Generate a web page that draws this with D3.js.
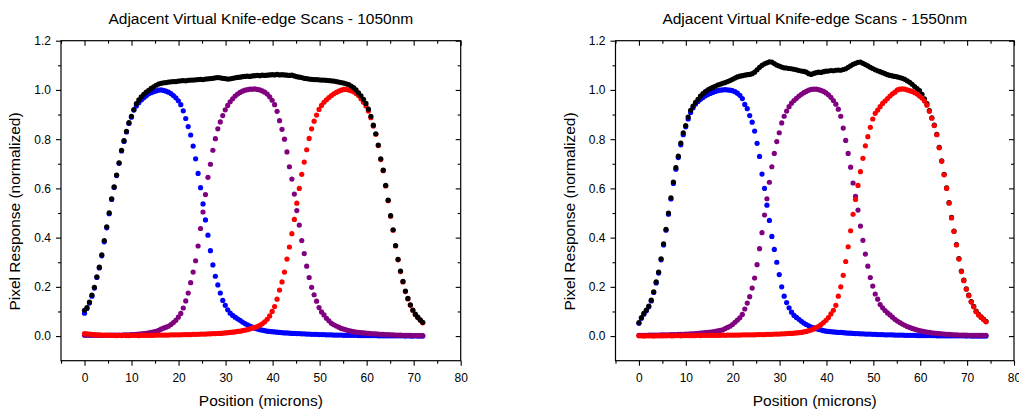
<!DOCTYPE html>
<html lang="en">
<head>
<meta charset="UTF-8">
<title>Adjacent Virtual Knife-edge Scans</title>
<script src="https://d3js.org/d3.v7.min.js"></script>
<style>
    body { margin: 0; background: #fff; }
    svg { display: block; }
    text { font-family: "Liberation Sans", Arial, sans-serif; fill: #000; }
</style>
</head>
<body>
<script>
    // scan samples are taken every 0.525 microns, starting at 0
    const scanStep = 0.525;

    const xMajor = [0, 10, 20, 30, 40, 50, 60, 70, 80];
    const xMinor = [-5, 5, 15, 25, 35, 45, 55, 65, 75];
    const yMajor = [0, 0.2, 0.4, 0.6, 0.8, 1.0, 1.2];
    const yMinor = [0.1, 0.3, 0.5, 0.7, 0.9, 1.1];

    // ---- 1050nm ----
    const blue1050 = [
        0.093,0.112,0.134,0.162,0.195,0.238,0.277,0.326,0.383,0.44,
        0.497,0.555,0.604,0.652,0.702,0.752,0.791,0.829,0.864,0.889,
        0.918,0.935,0.948,0.959,0.968,0.976,0.984,0.989,0.993,0.996,
        0.999,1.0,0.998,0.995,0.991,0.985,0.977,0.968,0.956,0.94,
        0.915,0.884,0.851,0.817,0.772,0.72,0.661,0.603,0.537,0.472,
        0.41,0.347,0.289,0.243,0.208,0.175,0.145,0.125,0.107,0.093,
        0.084,0.077,0.07,0.064,0.057,0.051,0.046,0.041,0.036,0.032,
        0.029,0.026,0.024,0.022,0.02,0.019,0.018,0.017,0.016,0.015,
        0.014,0.013,0.013,0.012,0.011,0.011,0.01,0.01,0.009,0.009,
        0.008,0.008,0.007,0.007,0.007,0.006,0.006,0.006,0.005,0.005,
        0.005,0.004,0.004,0.004,0.004,0.003,0.003,0.003,0.003,0.003,
        0.003,0.002,0.002,0.002,0.002,0.002,0.002,0.002,0.002,0.001,
        0.001,0.001,0.001,0.001,0.001,0.001,0.001,0.001,0.001,0.001,
        0.0,0.001,0.0,0.0,0.001,0.0,0.0,0.0
    ];
    const purple1050 = [
        0.003,0.003,0.003,0.003,0.003,0.003,0.003,0.003,0.003,0.003,
        0.004,0.004,0.004,0.004,0.004,0.004,0.005,0.005,0.005,0.006,
        0.006,0.007,0.008,0.009,0.01,0.011,0.013,0.015,0.017,0.019,
        0.023,0.028,0.032,0.036,0.04,0.047,0.055,0.064,0.077,0.092,
        0.114,0.143,0.175,0.217,0.26,0.306,0.366,0.437,0.504,0.575,
        0.645,0.698,0.755,0.802,0.842,0.87,0.896,0.919,0.937,0.952,
        0.964,0.975,0.983,0.99,0.995,0.999,1.001,1.003,1.003,1.004,
        1.002,1.0,0.996,0.991,0.983,0.972,0.958,0.94,0.913,0.875,
        0.84,0.8,0.748,0.688,0.638,0.577,0.51,0.451,0.388,0.335,
        0.284,0.238,0.198,0.168,0.142,0.116,0.098,0.086,0.072,0.062,
        0.052,0.046,0.041,0.036,0.031,0.028,0.025,0.022,0.02,0.018,
        0.016,0.015,0.014,0.013,0.012,0.011,0.01,0.009,0.009,0.008,
        0.007,0.007,0.006,0.006,0.005,0.005,0.004,0.004,0.004,0.003,
        0.003,0.003,0.003,0.002,0.002,0.002,0.002,0.002
    ];
    const red1050 = [
        0.01,0.009,0.008,0.007,0.006,0.005,0.005,0.004,0.004,0.004,
        0.003,0.003,0.003,0.002,0.003,0.002,0.003,0.002,0.002,0.003,
        0.003,0.003,0.002,0.003,0.003,0.003,0.003,0.003,0.003,0.004,
        0.004,0.004,0.004,0.004,0.004,0.005,0.005,0.005,0.005,0.005,
        0.006,0.006,0.006,0.006,0.007,0.007,0.007,0.008,0.008,0.008,
        0.009,0.009,0.01,0.01,0.011,0.011,0.012,0.013,0.014,0.015,
        0.016,0.017,0.019,0.02,0.022,0.024,0.026,0.029,0.032,0.035,
        0.039,0.044,0.05,0.058,0.068,0.082,0.1,0.12,0.15,0.187,
        0.22,0.26,0.313,0.362,0.416,0.474,0.54,0.6,0.657,0.707,
        0.757,0.803,0.842,0.873,0.898,0.921,0.937,0.95,0.96,0.969,
        0.977,0.984,0.99,0.995,0.999,1.002,1.002,1.0,0.997,0.993,
        0.986,0.977,0.964,0.95,0.935,0.914,0.887,0.853,0.82,0.774,
        0.717,0.672,0.61,0.55,0.487,0.43,0.366,0.31,0.262,0.22,
        0.181,0.151,0.125,0.104,0.087,0.075,0.064,0.054
    ];
    const black1050 = [
        0.105,0.116,0.138,0.167,0.198,0.241,0.28,0.33,0.388,0.444,
        0.501,0.558,0.606,0.654,0.704,0.755,0.794,0.832,0.867,0.893,
        0.92,0.944,0.96,0.972,0.982,0.991,0.998,1.006,1.013,1.019,
        1.024,1.027,1.029,1.03,1.032,1.033,1.034,1.034,1.036,1.037,
        1.038,1.037,1.039,1.04,1.04,1.041,1.042,1.043,1.042,1.044,
        1.045,1.046,1.047,1.049,1.05,1.049,1.047,1.046,1.044,1.045,
        1.047,1.049,1.051,1.052,1.054,1.055,1.056,1.055,1.057,1.058,
        1.059,1.058,1.06,1.059,1.06,1.061,1.062,1.061,1.063,1.061,
        1.062,1.061,1.06,1.059,1.06,1.057,1.054,1.052,1.05,1.047,
        1.046,1.044,1.043,1.042,1.042,1.041,1.04,1.04,1.039,1.038,
        1.037,1.036,1.034,1.032,1.03,1.028,1.025,1.022,1.016,1.009,
        1.0,0.988,0.976,0.962,0.945,0.922,0.893,0.857,0.822,0.776,
        0.72,0.674,0.612,0.552,0.489,0.432,0.368,0.312,0.264,0.222,
        0.183,0.153,0.127,0.106,0.089,0.077,0.066,0.056
    ];

    // ---- 1550nm ----
    const blue1550 = [
        0.052,0.072,0.089,0.103,0.119,0.143,0.177,0.216,0.256,0.31,
        0.37,0.43,0.495,0.557,0.62,0.678,0.725,0.777,0.818,0.85,
        0.882,0.908,0.928,0.943,0.953,0.962,0.969,0.976,0.981,0.986,
        0.99,0.994,0.997,0.999,1.0,1.001,1.0,0.999,0.997,0.993,
        0.987,0.978,0.965,0.941,0.924,0.896,0.869,0.833,0.783,0.73,
        0.658,0.6,0.532,0.47,0.405,0.352,0.3,0.25,0.2,0.162,
        0.136,0.115,0.097,0.084,0.076,0.068,0.06,0.053,0.047,0.042,
        0.037,0.033,0.03,0.027,0.025,0.022,0.02,0.019,0.018,0.017,
        0.016,0.015,0.015,0.014,0.013,0.012,0.012,0.011,0.01,0.01,
        0.009,0.009,0.008,0.008,0.008,0.007,0.007,0.006,0.006,0.006,
        0.005,0.005,0.005,0.005,0.004,0.004,0.004,0.004,0.003,0.003,
        0.003,0.003,0.003,0.002,0.002,0.002,0.002,0.002,0.002,0.002,
        0.002,0.001,0.001,0.001,0.001,0.001,0.001,0.001,0.001,0.001,
        0.001,0.001,0.001,0.0,0.001,0.0,0.0,0.0,0.0,0.0,
        0.0,0.0
    ];
    const purple1550 = [
        0.003,0.003,0.003,0.003,0.004,0.004,0.004,0.004,0.004,0.005,
        0.005,0.005,0.005,0.006,0.006,0.006,0.007,0.007,0.007,0.008,
        0.008,0.009,0.009,0.01,0.011,0.012,0.013,0.014,0.015,0.016,
        0.017,0.019,0.021,0.023,0.025,0.03,0.035,0.04,0.047,0.056,
        0.065,0.074,0.088,0.11,0.134,0.16,0.195,0.236,0.29,0.355,
        0.42,0.492,0.558,0.625,0.688,0.742,0.79,0.826,0.866,0.893,
        0.914,0.932,0.946,0.957,0.966,0.975,0.982,0.989,0.994,0.999,
        1.002,1.003,1.003,1.001,0.998,0.994,0.988,0.98,0.97,0.957,
        0.942,0.922,0.893,0.845,0.795,0.742,0.686,0.622,0.568,0.512,
        0.447,0.389,0.333,0.284,0.238,0.203,0.171,0.15,0.128,0.115,
        0.104,0.094,0.086,0.077,0.068,0.061,0.055,0.049,0.044,0.039,
        0.035,0.031,0.028,0.025,0.022,0.02,0.018,0.016,0.015,0.013,
        0.012,0.011,0.01,0.009,0.008,0.007,0.007,0.006,0.005,0.005,
        0.004,0.004,0.004,0.004,0.003,0.003,0.003,0.003,0.003,0.003,
        0.003,0.003
    ];
    const red1550 = [
        0.001,0.001,0.0,0.001,0.001,0.001,0.0,0.001,0.001,0.001,
        0.001,0.001,0.002,0.001,0.001,0.002,0.002,0.001,0.002,0.002,
        0.002,0.002,0.002,0.002,0.003,0.002,0.003,0.003,0.003,0.003,
        0.003,0.003,0.003,0.003,0.004,0.003,0.004,0.004,0.004,0.004,
        0.004,0.004,0.005,0.005,0.005,0.005,0.005,0.005,0.006,0.006,
        0.006,0.006,0.007,0.007,0.007,0.008,0.008,0.008,0.009,0.009,
        0.01,0.011,0.011,0.012,0.013,0.014,0.015,0.017,0.019,0.022,
        0.025,0.029,0.034,0.04,0.047,0.055,0.064,0.075,0.09,0.105,
        0.125,0.162,0.2,0.247,0.303,0.363,0.428,0.495,0.555,0.612,
        0.668,0.722,0.773,0.81,0.848,0.882,0.905,0.918,0.932,0.945,
        0.955,0.965,0.975,0.984,0.991,1.0,1.003,1.004,1.003,1.0,
        0.997,0.994,0.989,0.983,0.975,0.967,0.955,0.938,0.913,0.885,
        0.855,0.818,0.765,0.71,0.655,0.6,0.54,0.48,0.425,0.37,
        0.313,0.262,0.225,0.19,0.164,0.138,0.119,0.099,0.086,0.076,
        0.067,0.058
    ];
    const black1550 = [
        0.055,0.075,0.092,0.106,0.122,0.146,0.18,0.22,0.26,0.314,
        0.375,0.434,0.5,0.562,0.626,0.684,0.731,0.784,0.826,0.855,
        0.89,0.917,0.934,0.95,0.962,0.975,0.985,0.993,1.0,1.005,
        1.01,1.015,1.02,1.023,1.027,1.03,1.034,1.038,1.043,1.048,
        1.053,1.056,1.058,1.06,1.062,1.063,1.066,1.072,1.082,1.092,
        1.1,1.106,1.11,1.114,1.113,1.107,1.101,1.097,1.093,1.09,
        1.089,1.087,1.086,1.084,1.082,1.079,1.077,1.075,1.072,1.066,
        1.063,1.067,1.07,1.072,1.071,1.074,1.076,1.077,1.079,1.078,
        1.08,1.081,1.08,1.083,1.086,1.092,1.098,1.104,1.108,1.112,
        1.113,1.108,1.103,1.098,1.092,1.087,1.082,1.078,1.074,1.07,
        1.066,1.062,1.059,1.057,1.055,1.053,1.05,1.047,1.043,1.037,
        1.031,1.023,1.014,1.005,0.997,0.982,0.964,0.944,0.916,0.887,
        0.857,0.82,0.767,0.712,0.657,0.602,0.542,0.482,0.427,0.372,
        0.315,0.264,0.227,0.192,0.166,0.14,0.121,0.101,0.088,0.078,
        0.069,0.06
    ];

    const W = 1019, H = 409;
    const plotTop = 40.7, plotBottom = 360.7;

    const svg = d3.select("body").append("svg")
        .attr("width", W)
        .attr("height", H);

    function drawPanel(p) {
        const x = d3.scaleLinear().domain([-5, 80]).range([p.left, p.right]);
        const y = d3.scaleLinear().domain([-0.1, 1.2]).range([plotBottom, plotTop]);
        const g = svg.append("g");

        // data points, drawn in the given order
        p.series.forEach(s => {
            g.append("g")
                .selectAll("circle")
                .data(s.values)
                .join("circle")
                .attr("cx", (d, i) => x(i * scanStep))
                .attr("cy", d => y(d))
                .attr("r", 2.6)
                .attr("fill", s.color);
        });

        const fmtY = d3.format(".1f");
        const noLabel = () => "";
        const styleAxis = sel => {
            sel.select(".domain").remove();
            sel.selectAll(".tick line").attr("stroke", "#000").attr("stroke-width", 1.1);
            sel.selectAll("text")
                .attr("font-size", 12)
                .attr("font-family", "Liberation Sans, Arial, sans-serif")
                .attr("fill", "#000");
        };

        // bottom (outward) and top (inward)
        g.append("g").attr("transform", `translate(0,${plotBottom})`)
            .call(d3.axisBottom(x).tickValues(xMajor).tickSize(5).tickPadding(8).tickFormat(d3.format("d")))
            .call(styleAxis);
        g.append("g").attr("transform", `translate(0,${plotBottom})`)
            .call(d3.axisBottom(x).tickValues(xMinor).tickSize(3).tickFormat(noLabel))
            .call(styleAxis);
        g.append("g").attr("transform", `translate(0,${plotTop})`)
            .call(d3.axisTop(x).tickValues(xMajor).tickSize(-5).tickFormat(noLabel))
            .call(styleAxis);
        g.append("g").attr("transform", `translate(0,${plotTop})`)
            .call(d3.axisTop(x).tickValues(xMinor).tickSize(-3).tickFormat(noLabel))
            .call(styleAxis);

        // left (outward) and right (inward)
        g.append("g").attr("transform", `translate(${p.left},0)`)
            .call(d3.axisLeft(y).tickValues(yMajor).tickSize(5).tickPadding(5).tickFormat(fmtY))
            .call(styleAxis);
        g.append("g").attr("transform", `translate(${p.left},0)`)
            .call(d3.axisLeft(y).tickValues(yMinor).tickSize(3).tickFormat(noLabel))
            .call(styleAxis);
        g.append("g").attr("transform", `translate(${p.right},0)`)
            .call(d3.axisRight(y).tickValues(yMajor).tickSize(-5).tickFormat(noLabel))
            .call(styleAxis);
        g.append("g").attr("transform", `translate(${p.right},0)`)
            .call(d3.axisRight(y).tickValues(yMinor).tickSize(-3).tickFormat(noLabel))
            .call(styleAxis);

        // frame
        g.append("rect")
            .attr("x", p.left).attr("y", plotTop)
            .attr("width", p.right - p.left).attr("height", plotBottom - plotTop)
            .attr("fill", "none").attr("stroke", "#000").attr("stroke-width", 1.2);

        const cx = (p.left + p.right) / 2;
        g.append("text")
            .attr("x", cx).attr("y", 24)
            .attr("text-anchor", "middle")
            .attr("font-size", 15.5)
            .text(p.title);

        g.append("text")
            .attr("x", cx).attr("y", 406)
            .attr("text-anchor", "middle")
            .attr("font-size", 15.5)
            .text("Position (microns)");

        g.append("text")
            .attr("transform", `translate(${p.left - 41},211.5) rotate(-90)`)
            .attr("text-anchor", "middle")
            .attr("font-size", 15.5)
            .text("Pixel Response (normalized)");
    }

    drawPanel({
        left: 61, right: 460.7,
        title: "Adjacent Virtual Knife-edge Scans - 1050nm",
        series: [
            { values: blue1050, color: "#0000ff" },
            { values: purple1050, color: "#800080" },
            { values: red1050, color: "#ff0000" },
            { values: black1050, color: "#000000" }
        ]
    });

    drawPanel({
        left: 615.5, right: 1014,
        title: "Adjacent Virtual Knife-edge Scans - 1550nm",
        series: [
            { values: blue1550, color: "#0000ff" },
            { values: purple1550, color: "#800080" },
            { values: black1550, color: "#000000" },
            { values: red1550, color: "#ff0000" }
        ]
    });
</script>
</body>
</html>
